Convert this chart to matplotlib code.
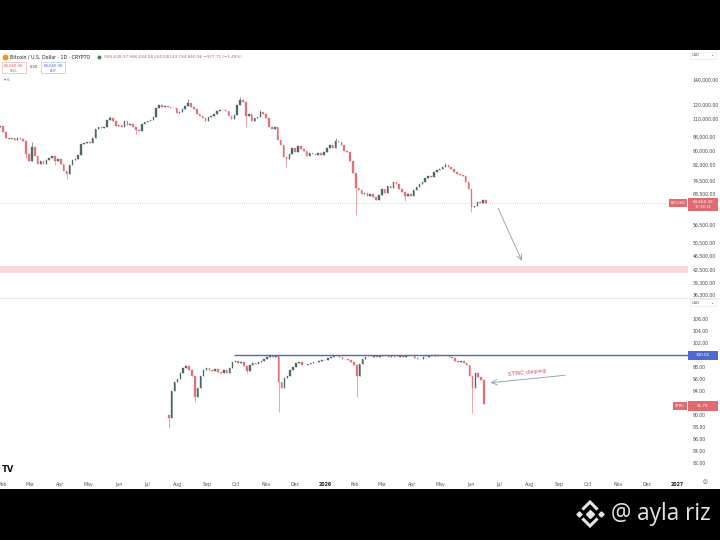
import numpy as np
import matplotlib
matplotlib.use("Agg")
import matplotlib.pyplot as plt
from matplotlib.patches import Rectangle
from matplotlib.lines import Line2D
from matplotlib.ticker import FixedLocator, NullLocator, FuncFormatter

# ---- data (3-day candles, start 2025-01-29) ----
btc_first_open = 104500
btc_close = [
    105000, 101000, 97500, 96500, 97000, 96000, 97500, 96500, 95500, 88000,
    84000, 92000, 87000, 82500, 84000, 82500, 84500, 86000, 87000, 84000,
    85000, 82500, 79000, 77500, 82000, 84500, 85000, 87500, 93500, 94500,
    95000, 94500, 97000, 103000, 104000, 103500, 104500, 109000, 110500, 108000,
    105000, 105500, 104500, 108000, 105500, 106500, 104500, 102500, 101500, 106000,
    107500, 108500, 109000, 111000, 117500, 119500, 118000, 119000, 118500, 117500,
    117500, 114000, 114500, 116500, 119000, 121500, 118000, 117000, 113000, 112000,
    110500, 108500, 111000, 111500, 113000, 115500, 116000, 116000, 115500, 112000,
    109500, 112500, 120000, 123500, 122000, 112000, 113000, 108500, 110000, 111000,
    114500, 113000, 110000, 104000, 103000, 104500, 96000, 93000, 86500, 85000,
    88000, 91500, 89000, 92500, 91000, 89500, 87000, 88500, 88000, 87500,
    88500, 87500, 89000, 91500, 93000, 91500, 95500, 95000, 93000, 89500,
    89000, 84000, 78000, 71000, 70000, 68500, 69000, 67500, 68500, 67000,
    66000, 68000, 70500, 69000, 72000, 71000, 74000, 73000, 70500, 69500,
    67500, 68500, 67500, 70000, 71500, 73000, 74000, 75500, 76500, 76000,
    78500, 79500, 80000, 81000, 82000, 81000, 80000, 78500, 77500, 77000,
    76500, 74000, 70500, 63000, 63500, 65000, 64500, 66000, 64660,
]
btc_low_wicks = {9: 86000, 19: 82000, 23: 75000, 47: 99500, 85: 104000, 99: 81000,
                 123: 60000, 140: 65500, 163: 61000}
btc_high_wicks = {11: 95000, 38: 112000, 65: 124000, 83: 126000, 90: 116000,
                  116: 97500, 154: 83000}

strc_start_day = 175
strc_first_open = 90.0
strc_close = [
    89.5, 94.0, 95.5, 96.0, 97.0, 97.8, 98.2, 97.5, 96.5, 93.0,
    94.5, 96.5, 97.5, 97.8, 97.5, 97.4, 97.6, 97.2, 97.0, 97.5,
    97.0, 97.8, 98.8, 99.0, 98.6, 98.8, 98.2, 97.4, 98.3, 98.6,
    98.5, 98.8, 99.0, 99.3, 99.6, 99.8, 99.6, 99.8, 95.5, 94.5,
    96.2, 96.5, 97.5, 98.0, 98.6, 98.8, 98.4, 98.3, 98.5, 98.7,
    98.9, 98.8, 99.0, 99.1, 99.2, 99.5, 99.7, 100.0, 99.8, 99.6,
    99.4, 99.3, 99.1, 98.8, 98.3, 96.5, 98.5, 99.4, 99.6, 99.7,
    99.6, 99.8, 99.7, 99.8, 99.9, 99.8, 99.7, 99.8, 99.6, 99.7,
    99.8, 99.7, 99.8, 99.9, 99.8, 99.5, 99.3, 99.4, 99.6, 99.7,
    99.8, 99.9, 100.0, 99.9, 99.8, 99.9, 99.8, 99.7, 99.5, 99.0,
    98.9, 99.0, 98.6, 98.3, 96.5, 94.5, 97.0, 96.3, 95.8, 91.79,
]
strc_low_wicks = {0: 87.8, 9: 92.2, 27: 97.0, 38: 90.5, 65: 93.0, 105: 90.3}

month_dates = ['2025-02-01', '2025-03-01', '2025-04-01', '2025-05-01', '2025-06-01',
               '2025-07-01', '2025-08-01', '2025-09-01', '2025-10-01', '2025-11-01',
               '2025-12-01', '2026-01-01', '2026-02-01', '2026-03-01', '2026-04-01',
               '2026-05-01', '2026-06-01', '2026-07-01', '2026-08-01', '2026-09-01',
               '2026-10-01', '2026-11-01', '2026-12-01', '2027-01-01']
month_labels = ['Feb', 'Mar', 'Apr', 'May', 'Jun', 'Jul', 'Aug', 'Sep', 'Oct', 'Nov',
                'Dec', '2026', 'Feb', 'Mar', 'Apr', 'May', 'Jun', 'Jul', 'Aug', 'Sep',
                'Oct', 'Nov', 'Dec', '2027']

btc_ticks = [140000, 120000, 110000, 98000, 90000, 82000, 74500, 68500,
             56500, 50500, 46500, 42500, 39300, 36300]
strc_ticks = [106, 104, 102, 98, 96, 94, 90, 88, 86, 84, 82]

last_price = 64660.36
zone_low, zone_high = 41700, 43500
strc_level = 100.02
strc_last = 91.79

UP = '#4e6863'
DOWN = '#e0737a'
W, H = 720, 540


def fx(x):
    return x / W


def fy(y):
    return 1 - y / H


def px_rect(fig, x0, y0, x1, y1, color, ec='none', z=5):
    fig.add_artist(Rectangle((fx(x0), fy(y1)), fx(x1 - x0), (y1 - y0) / H,
                             transform=fig.transFigure, facecolor=color,
                             edgecolor=ec, linewidth=0.4, zorder=z))


def px_text(fig, x, y, s, **kw):
    kw.setdefault('va', 'center')
    kw.setdefault('zorder', 6)
    fig.text(fx(x), fy(y), s, **kw)


def candles(ax, days, first_open, closes, lows, highs, width):
    opens = [first_open] + closes[:-1]
    for i, (d, o, c) in enumerate(zip(days, opens, closes)):
        col = UP if c >= o else DOWN
        lo = lows.get(i, min(o, c))
        hi = highs.get(i, max(o, c))
        ax.vlines(d, lo, hi, color=col, linewidth=0.45)
        ax.bar(d, abs(c - o), bottom=min(o, c), width=width, color=col,
               edgecolor=col, linewidth=0.25)


fig = plt.figure(figsize=(7.2, 5.4), dpi=100)
fig.patch.set_facecolor('black')
px_rect(fig, 0, 50, 720, 489, 'white', z=-10)

xmin, xmax = -0.1, 713.6
ax1 = fig.add_axes([0, fy(298), fx(688), 248 / H])
ax2 = fig.add_axes([0, fy(474), fx(688), 176 / H])
for ax in (ax1, ax2):
    ax.set_facecolor('none')
    for s in ax.spines.values():
        s.set_visible(False)
    ax.set_xlim(xmin, xmax)
    ax.yaxis.tick_right()
    ax.tick_params(axis='y', length=0, pad=3.2, labelsize=3.3, labelcolor='#444444')

# top pane: BTC
btc_days = [3 * i for i in range(len(btc_close))]
ax1.set_yscale('log')
ax1.set_ylim(35630, 169000)
ax1.yaxis.set_major_locator(FixedLocator(btc_ticks))
ax1.yaxis.set_minor_locator(NullLocator())
ax1.yaxis.set_major_formatter(FuncFormatter(lambda v, p: f'{v:,.2f}'))
ax1.set_xticks([])
ax1.axhspan(zone_low, zone_high, color='#f9d9d9', linewidth=0)
ax1.axhline(last_price, color='#c9a0a0', linewidth=0.5, linestyle=(0, (1, 2)))
candles(ax1, btc_days, btc_first_open, btc_close, btc_low_wicks, btc_high_wicks, 1.6)
ax1.annotate('', xy=(542.4, 44300), xytext=(515.5, 63600),
             arrowprops=dict(arrowstyle='->', color='#8a9bb0', lw=0.6))

# bottom pane: STRC
strc_days = [strc_start_day + 3 * j for j in range(len(strc_close))]
ax2.set_ylim(80.17, 109.5)
ax2.yaxis.set_major_locator(FixedLocator(strc_ticks))
ax2.yaxis.set_major_formatter(FuncFormatter(lambda v, p: f'{v:.2f}'))
ax2.hlines(strc_level, 242.6, xmax, color='#4a68c8', linewidth=1.0)
candles(ax2, strc_days, strc_first_open, strc_close, strc_low_wicks, {}, 1.6)
ax2.annotate('', xy=(506, 95.33), xytext=(589, 96.67),
             arrowprops=dict(arrowstyle='->', color='#8a9bb0', lw=0.6))
ax2.text(546.6, 97.05, 'STRC depeg', color='#d0555a', fontsize=4.6,
         rotation=6, ha='center', va='center')

base = np.datetime64('2025-01-29')
month_days = [int((np.datetime64(m) - base) / np.timedelta64(1, 'D')) for m in month_dates]
ax2.set_xticks(month_days)
ax2.set_xticklabels(month_labels)
ax2.tick_params(axis='x', length=0, pad=5.5, labelsize=3.4, labelcolor='#555555')
for t in ax2.get_xticklabels():
    if t.get_text() in ('2026', '2027'):
        t.set_fontweight('bold')
        t.set_color('#222222')

# pane separator
fig.add_artist(Line2D([0, 1], [fy(298), fy(298)], color='#e3e5ea', linewidth=0.6,
                      transform=fig.transFigure, zorder=-5))

# header
fig.add_artist(Line2D([fx(5)], [fy(57)], marker='o', markersize=3.2, color='#f7931a',
                      transform=fig.transFigure))
px_text(fig, 10, 57, 'Bitcoin / U.S. Dollar · 1D · CRYPTO', fontsize=3.4, color='#222222')
fig.add_artist(Line2D([fx(99)], [fy(57)], marker='o', markersize=1.8, color='#3a8a5a',
                      transform=fig.transFigure))
px_text(fig, 104, 57, 'O65,638.37 H66,064.58 L64,500.43 C64,660.36 −977.71 (−1.49%)',
        fontsize=3.0, color='#d0555a')
px_rect(fig, 2, 62, 26, 73, 'white', ec='#e8a0a0')
px_text(fig, 14, 66, '64,660.36', fontsize=2.8, color='#d0555a', ha='center')
px_text(fig, 14, 70.5, 'SELL', fontsize=2.4, color='#d0555a', ha='center')
px_text(fig, 33.5, 67.5, '0.00', fontsize=2.6, color='#444444', ha='center')
px_rect(fig, 41, 62, 65, 73, 'white', ec='#a0b4e8')
px_text(fig, 53, 66, '64,660.36', fontsize=2.8, color='#4a68c8', ha='center')
px_text(fig, 53, 70.5, 'BUY', fontsize=2.4, color='#4a68c8', ha='center')
px_text(fig, 4, 80, '▾ 6', fontsize=2.8, color='#555555')

# right side tags and USD boxes
for yy in (55, 302):
    px_rect(fig, 690, yy - 3, 716, yy + 4, 'white', ec='#e3e5ea')
    px_text(fig, 692, yy + 0.5, 'USD', fontsize=2.6, color='#444444')
    px_text(fig, 713, yy + 0.5, '⌄', fontsize=2.6, color='#444444', ha='right',
            family='DejaVu Sans')
px_rect(fig, 669, 199, 687, 207, '#e06a70')
px_text(fig, 678, 203, 'BTCUSD', fontsize=2.6, color='white', ha='center')
px_rect(fig, 688, 198, 718, 211, '#e06a70')
px_text(fig, 703, 201.5, f'{last_price:,.2f}', fontsize=3.0, color='white', ha='center')
px_text(fig, 703, 207.5, '17:38:14', fontsize=2.7, color='white', ha='center')
px_rect(fig, 688, 351, 718, 360, '#5068d0')
px_text(fig, 703, 355.5, f'{strc_level:.2f}', fontsize=3.0, color='white', ha='center')
px_rect(fig, 673, 402, 687, 410, '#e06a70')
px_text(fig, 680, 406, 'STRC', fontsize=2.8, color='white', ha='center')
px_rect(fig, 688, 401, 718, 411, '#e06a70')
px_text(fig, 703, 406, f'{strc_last:.2f}', fontsize=3.0, color='white', ha='center')

# footer bits
px_text(fig, 2, 470, 'TV', fontsize=6, color='#111111', fontweight='black')
px_text(fig, 705, 482, '◎', fontsize=4, color='#555555', ha='center', family='DejaVu Sans')

# watermark: binance-style logo + handle
cx, cy = 590, 514
logo = '#e6e6e6'
for dx in (-11, 11):
    fig.add_artist(Line2D([fx(cx + dx)], [fy(cy)], marker='D', markersize=2.6,
                          color=logo, transform=fig.transFigure))
fig.add_artist(Line2D([fx(cx)], [fy(cy)], marker='D', markersize=4.2, color=logo,
                      transform=fig.transFigure))
fig.add_artist(Line2D([fx(cx - 6.5), fx(cx), fx(cx + 6.5)],
                      [fy(cy - 5.5), fy(cy - 12), fy(cy - 5.5)],
                      color=logo, linewidth=2.2, solid_joinstyle='miter',
                      transform=fig.transFigure))
fig.add_artist(Line2D([fx(cx - 6.5), fx(cx), fx(cx + 6.5)],
                      [fy(cy + 5.5), fy(cy + 12), fy(cy + 5.5)],
                      color=logo, linewidth=2.2, solid_joinstyle='miter',
                      transform=fig.transFigure))
px_text(fig, 611, 514, '@ ayla riz', fontsize=16.3, color=logo,
        family=['Open Sans', 'DejaVu Sans'])

fig.savefig('out.png', dpi=100, facecolor='black')
